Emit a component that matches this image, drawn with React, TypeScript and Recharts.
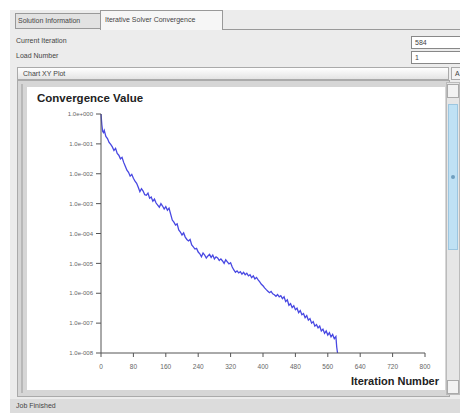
import * as React from "react";
import {Line, LineChart, XAxis, YAxis} from "recharts";

// [iteration, log10 of convergence value]
const convergence: [number, number][] = [
    [0, 0], [2, -0.35], [4, -0.58], [6, -0.62], [8, -0.55], [12, -0.75], [16, -0.82], [20, -0.95],
    [24, -1.02], [28, -1.1], [32, -1.22], [36, -1.15], [40, -1.32], [44, -1.38], [48, -1.5], [52, -1.45],
    [56, -1.62], [60, -1.75], [64, -1.88], [68, -1.95], [72, -2.08], [76, -2.02], [80, -2.15], [84, -2.25],
    [88, -2.32], [92, -2.45], [96, -2.6], [100, -2.5], [104, -2.58], [108, -2.7], [112, -2.72], [116, -2.65],
    [120, -2.82], [124, -2.78], [128, -2.92], [132, -2.85], [136, -2.98], [140, -3.05], [144, -3.12], [148, -3.0],
    [152, -3.08], [156, -3.18], [160, -3.1], [164, -3.22], [168, -3.15], [172, -3.35], [176, -3.55], [180, -3.62],
    [184, -3.72], [188, -3.68], [192, -3.88], [196, -3.95], [200, -4.05], [204, -3.98], [208, -4.12], [212, -4.2],
    [216, -4.25], [220, -4.2], [224, -4.38], [228, -4.45], [232, -4.52], [236, -4.5], [240, -4.62], [244, -4.68],
    [248, -4.78], [252, -4.65], [256, -4.72], [260, -4.82], [264, -4.75], [268, -4.7], [272, -4.8], [276, -4.72],
    [280, -4.85], [284, -4.78], [288, -4.82], [292, -4.9], [296, -4.85], [300, -4.92], [304, -5.0], [308, -4.88],
    [312, -4.95], [316, -5.02], [320, -4.98], [324, -5.12], [328, -5.22], [332, -5.3], [336, -5.25], [340, -5.32],
    [344, -5.28], [348, -5.36], [352, -5.3], [356, -5.38], [360, -5.33], [364, -5.42], [368, -5.38], [372, -5.48],
    [376, -5.42], [380, -5.52], [384, -5.47], [388, -5.55], [392, -5.62], [396, -5.7], [400, -5.75], [404, -5.82],
    [408, -5.88], [412, -5.93], [416, -5.98], [420, -5.94], [424, -6.02], [428, -6.05], [432, -6.1], [436, -6.04],
    [440, -6.12], [444, -6.08], [448, -6.18], [452, -6.12], [456, -6.28], [460, -6.22], [464, -6.4], [468, -6.35],
    [472, -6.48], [476, -6.42], [480, -6.55], [484, -6.5], [488, -6.65], [492, -6.58], [496, -6.72], [500, -6.68],
    [504, -6.82], [508, -6.75], [512, -6.9], [516, -6.85], [520, -7.0], [524, -6.95], [528, -7.1], [532, -7.05],
    [536, -7.16], [540, -7.1], [544, -7.26], [548, -7.2], [552, -7.34], [556, -7.26], [560, -7.4], [564, -7.32],
    [568, -7.46], [572, -7.38], [576, -7.52], [580, -7.45], [582, -7.8], [584, -8],
];

const xTicks = [0, 80, 160, 240, 320, 400, 480, 560, 640, 720, 800];
const yTicks = [0, -1, -2, -3, -4, -5, -6, -7, -8];

const currentIteration = "584";
const loadNumber = "1";

const chartData = convergence.map(([x, y]) => ({x, y}));

const fmtExp = (v: number) => {
    const e = Math.round(v);
    return "1.0e" + (e < 0 ? "-" : "+") + String(Math.abs(e)).padStart(3, "0");
};

const uiFont = "'Liberation Sans', Arial, sans-serif";

const abs = (l: number, t: number, w: number, h: number): React.CSSProperties => ({
    position: "absolute", left: l, top: t, width: w, height: h, boxSizing: "border-box",
});

export default function App() {
    return (
        <div style={{position: "absolute", left: 0, top: 0, width: 460, height: 413, background: "#fff",
            overflow: "hidden", fontFamily: uiFont, fontSize: 7, color: "#444"}}>
            {/* grey window body */}
            <div style={{...abs(10, 10, 450, 403), background: "#ececec"}}/>
            {/* tabs */}
            <div style={{...abs(15, 13, 86, 16), border: "1px solid #999", background: "#e2e2e2", padding: "3px 2px"}}>
                Solution Information
            </div>
            <div style={{...abs(100, 10, 123, 20), border: "1px solid #999", borderBottom: "none",
                background: "#f6f6f6", padding: "5px 4px"}}>
                Iterative Solver Convergence
            </div>
            <div style={{...abs(223, 29, 237, 1), background: "#999"}}/>
            {/* fields */}
            <div style={{...abs(16, 37, 120, 10)}}>Current Iteration</div>
            <div style={{...abs(411, 36, 50, 13), border: "1px solid #888", background: "#fff", padding: "2px 3px"}}>
                {currentIteration}
            </div>
            <div style={{...abs(16, 52, 120, 10)}}>Load Number</div>
            <div style={{...abs(411, 51, 50, 13), border: "1px solid #888", background: "#fff", padding: "2px 3px"}}>
                {loadNumber}
            </div>
            {/* chart header */}
            <div style={{...abs(17, 67, 432, 13), border: "1px solid #aaa",
                background: "linear-gradient(#ffffff, #e4e4e4)", padding: "2px 5px"}}>
                Chart XY Plot
            </div>
            <div style={{...abs(451, 67, 12, 13), border: "1px solid #aaa", background: "#f4f4f4", padding: "2px 3px"}}>
                A
            </div>
            {/* chart frame */}
            <div style={{...abs(17, 80, 433, 317), background: "#d6d6d6", border: "1px solid #aaa"}}/>
            <div style={{...abs(21, 84, 2, 309), background: "#b8b8b8"}}/>
            <div style={{...abs(27, 87, 418, 303), background: "#fff"}}/>
            {/* scrollbar */}
            <div style={{...abs(446, 82, 14, 313), background: "#e6e6e6", border: "1px solid #bbb"}}/>
            <div style={{...abs(447, 84, 12, 14), background: "#f2f2f2", border: "1px solid #aaa"}}/>
            <div style={{...abs(448, 104, 10, 146), background: "#bfe1f4", border: "1px solid #9cc6e0"}}/>
            <div style={{...abs(451, 175, 4, 4), background: "#6f9fbf", borderRadius: 2}}/>
            <div style={{...abs(447, 380, 12, 14), background: "#f2f2f2", border: "1px solid #aaa"}}/>
            {/* status */}
            <div style={{...abs(10, 399, 450, 14), background: "#dcdcdc"}}/>
            <div style={{...abs(16, 402, 100, 10)}}>Job Finished</div>

            <div style={{...abs(37, 92, 150, 14), fontWeight: "bold", fontSize: 11.5, color: "#222"}}>
                Convergence Value
            </div>
            <div style={{...abs(351, 375, 100, 14), fontWeight: "bold", fontSize: 11, color: "#222"}}>
                Iteration Number
            </div>

            <div style={{position: "absolute", left: 27, top: 88}}>
                <LineChart width={418} height={300} data={chartData}
                           margin={{top: 26, right: 20, bottom: 0, left: 0}}>
                    <XAxis type="number" dataKey="x" domain={[0, 800]} ticks={xTicks} interval={0}
                           height={35} tickSize={4} tickMargin={7} stroke="#555"
                           tick={{fontSize: 6.5, fill: "#666", fontFamily: uiFont}}/>
                    <YAxis type="number" dataKey="y" domain={[-8, 0]} ticks={yTicks} interval={0}
                           width={74} tickSize={5} tickMargin={3} stroke="#555" tickFormatter={fmtExp}
                           tick={{fontSize: 6, fill: "#666", fontFamily: uiFont}}/>
                    <Line type="linear" dataKey="y" stroke="#4848e2" strokeWidth={1.3} dot={false}
                          isAnimationActive={false}/>
                </LineChart>
            </div>
        </div>
    );
}
